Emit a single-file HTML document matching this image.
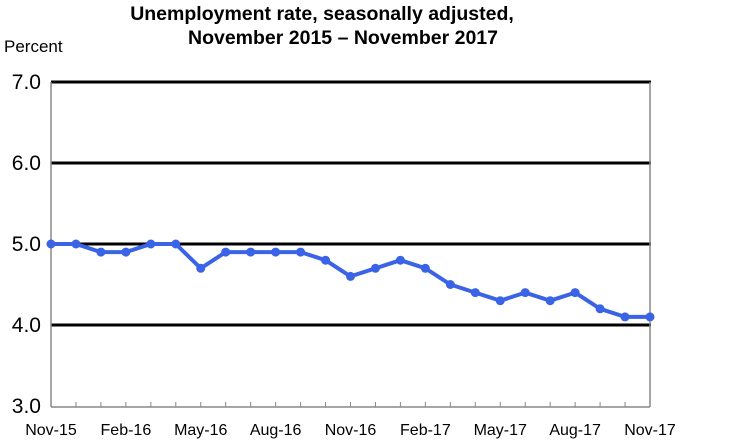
<!DOCTYPE html>
<html><head><meta charset="utf-8"><style>
body{margin:0;background:#fff;}
svg{display:block;font-family:"Liberation Sans",Arial,sans-serif;}
</style></head><body>
<svg id="chart" width="750" height="443" viewBox="0 0 750 443">
<text x="322" y="20" text-anchor="middle" font-size="19.5" font-weight="bold">Unemployment rate, seasonally adjusted,</text>
<text x="343" y="44" text-anchor="middle" font-size="19.5" font-weight="bold">November 2015 – November 2017</text>
<text x="4" y="52" font-size="17">Percent</text>
<g id="grid"></g><g id="axes"></g><g id="series"></g>
</svg>
<script>
const categories=["Nov-15","Dec-15","Jan-16","Feb-16","Mar-16","Apr-16","May-16","Jun-16","Jul-16","Aug-16","Sep-16","Oct-16","Nov-16","Dec-16","Jan-17","Feb-17","Mar-17","Apr-17","May-17","Jun-17","Jul-17","Aug-17","Sep-17","Oct-17","Nov-17"];
const rates=[5.0,5.0,4.9,4.9,5.0,5.0,4.7,4.9,4.9,4.9,4.9,4.8,4.6,4.7,4.8,4.7,4.5,4.4,4.3,4.4,4.3,4.4,4.2,4.1,4.1];
const yTicks=[3.0,4.0,5.0,6.0,7.0];
const labelEvery=3;
const NS="http://www.w3.org/2000/svg";
const X0=51,X1=650,Y0=406,Y1=82,YMIN=3,YMAX=7;
const x=i=>X0+i*(X1-X0)/(categories.length-1);
const y=v=>Y0-(v-YMIN)*(Y0-Y1)/(YMAX-YMIN);
function mk(t,a,p){const e=document.createElementNS(NS,t);for(const k in a)e.setAttribute(k,a[k]);p.appendChild(e);return e;}
const grid=document.getElementById('grid'),axes=document.getElementById('axes'),ser=document.getElementById('series');
yTicks.forEach(v=>{
  if(v>YMIN){const l=mk('line',{x1:X0,x2:X1+1,y1:y(v),y2:y(v),stroke:'#000','stroke-width':3},grid);
  
  }
  const t=mk('text',{x:41,y:y(v)+7,'text-anchor':'end','font-size':21},axes);t.textContent=v.toFixed(1);
  
  
});
const la=mk('line',{x1:X0,x2:X0,y1:Y1,y2:Y0+1,stroke:'#888','stroke-width':1.5},axes);


const ra=mk('line',{x1:X1,x2:X1,y1:Y1,y2:Y0+1,stroke:'#888','stroke-width':1.5},axes);


const xa=mk('line',{x1:X0,x2:X1,y1:Y0+1,y2:Y0+1,stroke:'#888','stroke-width':1.5},axes);


categories.forEach((c,i)=>{
  const tk=mk('line',{x1:x(i),x2:x(i),y1:Y0-4,y2:Y0+1,stroke:'#888','stroke-width':1},axes);
  
  
  if(i%labelEvery===0){const t=mk('text',{x:x(i),y:435,'text-anchor':'middle','font-size':16},axes);t.textContent=c;
  
  }
});
const pl=mk('polyline',{points:rates.map((v,i)=>x(i)+','+y(v)).join(' '),fill:'none',stroke:'#3b63e6','stroke-width':4,'stroke-linejoin':'round'},ser);


rates.forEach((v,i)=>{
  const c=mk('circle',{cx:x(i),cy:y(v),r:4.5,fill:'#3b63e6'},ser);
  
  
});
</script>
</body></html>
